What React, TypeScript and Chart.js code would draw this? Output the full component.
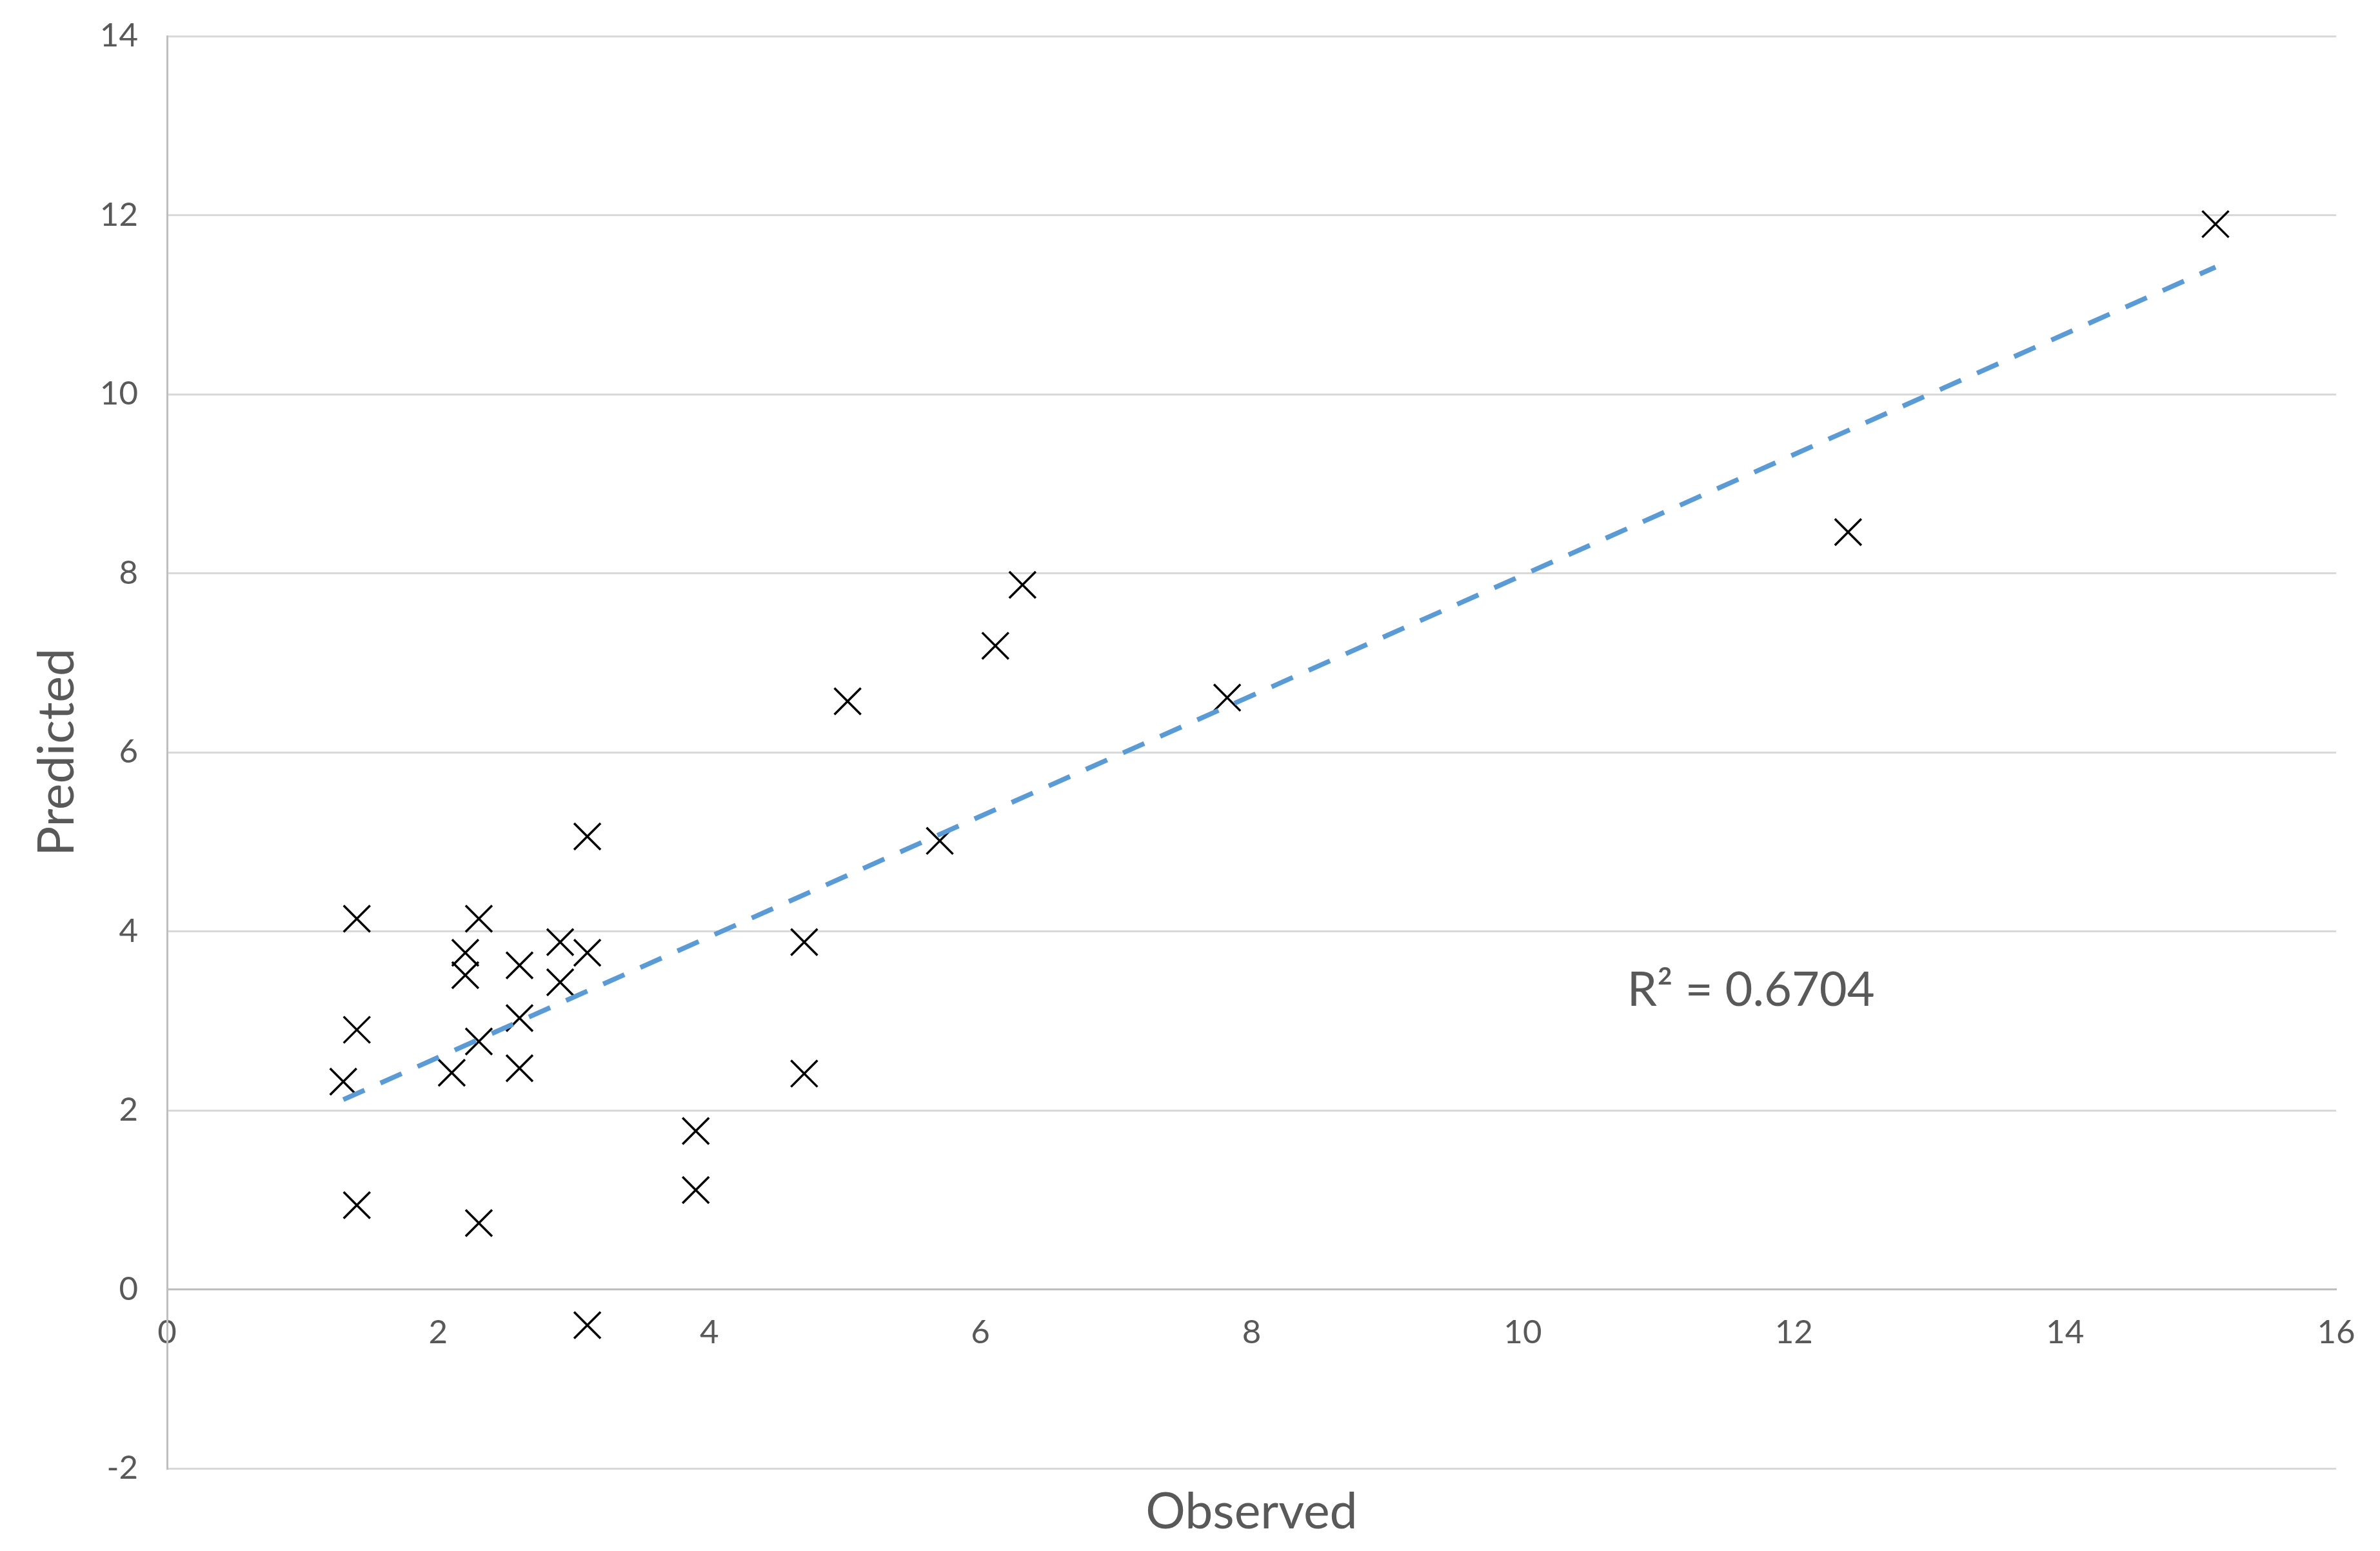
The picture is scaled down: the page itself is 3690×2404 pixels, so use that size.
import React, { useEffect, useRef } from "react";
import { Chart, registerables } from "chart.js";

Chart.register(...registerables);

// ---- data ----
const observed = [15.11, 12.4, 6.31, 6.11, 5.02, 7.82, 5.7, 3.1, 1.4, 2.3, 4.7, 2.9, 2.2, 2.2, 2.6, 3.1, 2.9, 2.6, 1.4, 2.3, 2.6, 1.3, 2.1, 4.7, 3.9, 3.9, 1.4, 2.3, 3.1];
const predicted = [11.9, 8.46, 7.87, 7.19, 6.57, 6.61, 5.01, 5.06, 4.14, 4.14, 3.88, 3.88, 3.76, 3.51, 3.62, 3.76, 3.43, 3.03, 2.9, 2.77, 2.47, 2.32, 2.42, 2.41, 1.77, 1.11, 0.94, 0.74, -0.4];
const trendX = [1.3, 15.11];
const trendY = [2.12, 11.42];
const xTitle = "Observed";
const yTitle = "Predicted";
const r2Label = "R² = 0.6704";
const r2At = [10.77, 3.34];
const xTicks = [0, 2, 4, 6, 8, 10, 12, 14, 16];
const yTicks = [-2, 0, 2, 4, 6, 8, 10, 12, 14];

const W = 3690;
const H = 2404;
const TEXT = "#595959";
const FONT = "Lato, 'Open Sans', sans-serif";

const textPlugin = {
  id: "textPlugin",
  afterDraw(chart: any) {
    const { ctx, chartArea, scales } = chart;
    ctx.save();
    ctx.fillStyle = TEXT;
    ctx.font = `77px ${FONT}`;
    ctx.textAlign = "center";
    ctx.textBaseline = "middle";
    ctx.fillText(xTitle, (chartArea.left + chartArea.right) / 2, chartArea.bottom + 68);
    ctx.save();
    ctx.translate(89, (chartArea.top + chartArea.bottom) / 2);
    ctx.rotate(-Math.PI / 2);
    ctx.fillText(yTitle, 0, 0);
    ctx.restore();
    ctx.textAlign = "left";
    ctx.font = `74px ${FONT}`;
    ctx.fillText(r2Label, scales.x.getPixelForValue(r2At[0]), scales.y.getPixelForValue(r2At[1]));
    ctx.restore();
  },
};

export default function App() {
  const ref = useRef<HTMLCanvasElement | null>(null);
  useEffect(() => {
    document.body.style.margin = "0";
    const canvas = ref.current!;
    const chart = new Chart(canvas, {
      type: "scatter",
      data: {
        datasets: [
          {
            label: "points",
            data: observed.map((x, i) => ({ x, y: predicted[i] })),
            pointStyle: "crossRot",
            pointRadius: 29,
            pointHoverRadius: 29,
            borderColor: "#000000",
            backgroundColor: "#000000",
            pointBorderWidth: 3.5,
            showLine: false,
            order: 1,
          },
          {
            label: "trend",
            data: trendX.map((x, i) => ({ x, y: trendY[i] })),
            showLine: true,
            borderColor: "#5b9bd5",
            borderWidth: 7.5,
            borderDash: [36, 27],
            pointRadius: 0,
            fill: false,
            order: 0,
          },
        ],
      },
      options: {
        responsive: false,
        animation: false,
        devicePixelRatio: 1,
        layout: { padding: { left: 0, right: 68, top: 56, bottom: 128 } },
        plugins: { legend: { display: false }, tooltip: { enabled: false } },
        scales: {
          x: {
            type: "linear",
            position: { y: 0 } as any,
            min: 0,
            max: 16,
            afterBuildTicks: (s: any) => { s.ticks = xTicks.map((v) => ({ value: v })); },
            afterFit: (s: any) => { s.paddingLeft = 0; s.paddingRight = 0; },
            grid: { display: false, drawTicks: false },
            border: { display: true, color: "#bfbfbf", width: 3 },
            ticks: { color: TEXT, font: { family: FONT, size: 51 }, padding: 36, maxRotation: 0, autoSkip: false },
          },
          y: {
            type: "linear",
            position: "left",
            min: -2,
            max: 14,
            afterBuildTicks: (s: any) => { s.ticks = yTicks.map((v) => ({ value: v })); },
            afterFit: (s: any) => { s.width = 259; s.paddingTop = 0; s.paddingBottom = 0; },
            grid: { display: true, color: "#d9d9d9", lineWidth: 3, drawTicks: false },
            border: { display: true, color: "#bfbfbf", width: 3 },
            ticks: { color: TEXT, font: { family: FONT, size: 51 }, padding: 45, autoSkip: false },
          },
        },
      },
      plugins: [textPlugin],
    });
    return () => chart.destroy();
  }, []);
  return (
    <div style={{ position: "fixed", left: 0, top: 0, width: W, height: H, background: "#fff" }}>
      <canvas ref={ref} width={W} height={H} style={{ width: W, height: H, display: "block" }} />
    </div>
  );
}
